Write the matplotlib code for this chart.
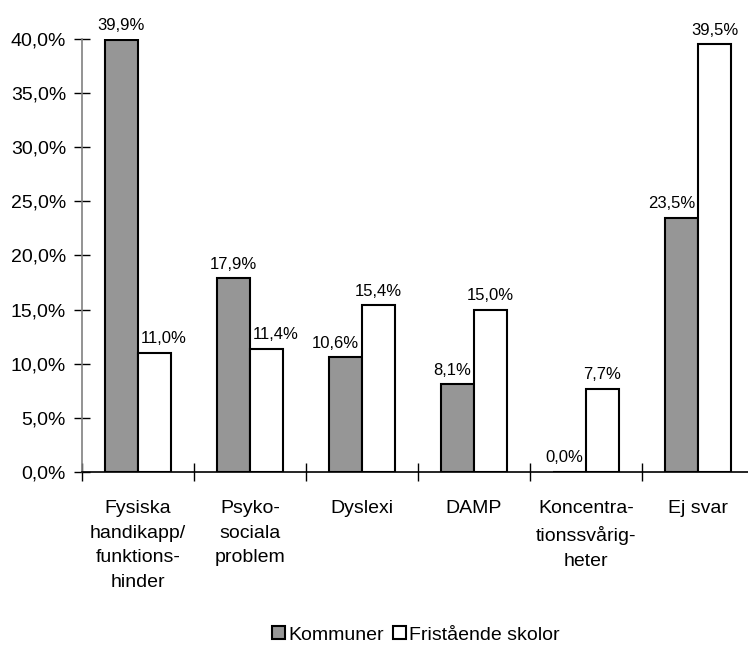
import matplotlib.pyplot as plt
import numpy as np

plt.rcParams['font.family'] = ['Liberation Sans', 'DejaVu Sans']

categories = ['Fysiska\nhandikapp/\nfunktions-\nhinder', 'Psyko-\nsociala\nproblem',
              'Dyslexi', 'DAMP', 'Koncentra-\ntionssvårig-\nheter', 'Ej svar']
kommuner = [39.9, 17.9, 10.6, 8.1, 0.0, 23.5]
fristaende = [11.0, 11.4, 15.4, 15.0, 7.7, 39.5]
series_names = ['Kommuner', 'Fristående skolor']
yticks = [0, 5, 10, 15, 20, 25, 30, 35, 40]


def fmt(v):
    return f"{v:.1f}".replace('.', ',') + '%'


fig = plt.figure(figsize=(7.48, 6.46), dpi=100)
ax = fig.add_axes([82 / 748, 174 / 646, 672 / 748, 433 / 646])

x = np.arange(len(categories))
w = 0.295
b1 = ax.bar(x - w / 2, kommuner, w, color='#969696', edgecolor='black',
            linewidth=1.5, label=series_names[0])
b2 = ax.bar(x + w / 2, fristaende, w, color='white', edgecolor='black',
            linewidth=1.5, label=series_names[1])

for i in range(len(categories)):
    g, f = kommuner[i], fristaende[i]
    # label for the grey bar
    if f > g:
        ax.annotate(fmt(g), (x[i], g), xytext=(-2, 7), textcoords='offset points',
                    ha='right', va='baseline', fontsize=12)
    else:
        ax.annotate(fmt(g), (x[i] - w / 2, g), xytext=(0, 7), textcoords='offset points',
                    ha='center', va='baseline', fontsize=12)
    # label for the white bar
    if g > f:
        ax.annotate(fmt(f), (x[i], f), xytext=(2, 7), textcoords='offset points',
                    ha='left', va='baseline', fontsize=12)
    else:
        ax.annotate(fmt(f), (x[i] + w / 2, f), xytext=(0, 7), textcoords='offset points',
                    ha='center', va='baseline', fontsize=12)

ax.set_xlim(-0.5, len(categories) - 0.5)
ax.set_ylim(0, 40)
ax.set_yticks(yticks)
ax.set_yticklabels([fmt(t) for t in yticks], fontsize=14)
ax.set_xticks(x)
ax.set_xticklabels(categories, fontsize=14, linespacing=1.6, va='top')
ax.set_xticks(np.arange(-0.5, len(categories) - 0.5, 1.0), minor=True)
ax.tick_params(axis='x', which='major', length=0, pad=20)
ax.tick_params(axis='x', which='minor', direction='inout', length=13, width=1, color='black')
ax.tick_params(axis='y', direction='inout', length=11, width=1, color='black', pad=6)

for s in ['top', 'right']:
    ax.spines[s].set_visible(False)
ax.spines['left'].set_color('#808080')
ax.spines['left'].set_linewidth(1.2)
ax.spines['bottom'].set_color('black')
ax.spines['bottom'].set_linewidth(1.2)
ax.spines['bottom'].set_zorder(3)

fig.legend(handles=[b1, b2], labels=series_names, loc='center', bbox_to_anchor=(416 / 748, 1 - 635 / 646),
           ncol=2, frameon=False, fontsize=14, handlelength=0.65, handleheight=0.65,
           handletextpad=0.15, columnspacing=0.5, borderpad=0)

fig.savefig('out.png', dpi=100)
